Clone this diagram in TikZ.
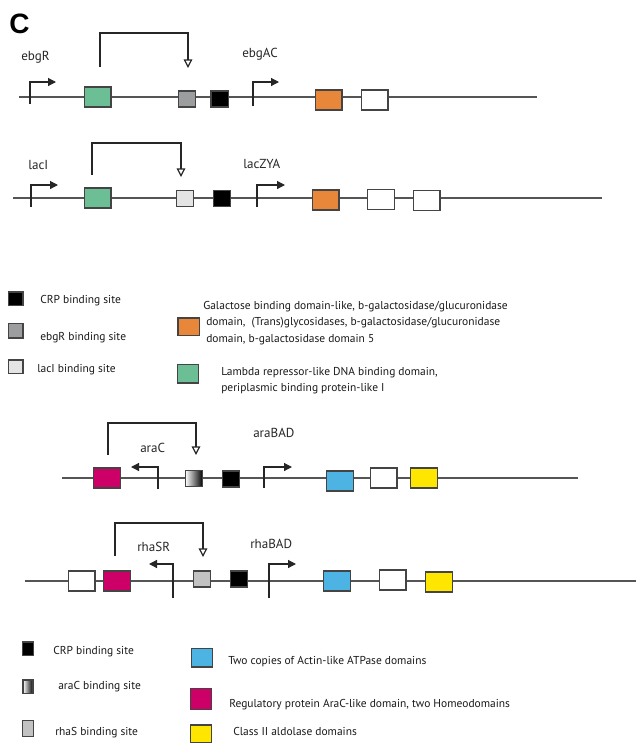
\documentclass[tikz,border=0pt]{standalone}
\usepackage{fontspec}
\setmainfont{PT Sans}
\newfontfamily\panelfont{Liberation Sans}
\usetikzlibrary{arrows.meta}
\definecolor{dnagray}{HTML}{555555}
\definecolor{edgegray}{HTML}{444444}
\definecolor{lambdagreen}{HTML}{6CBF94}
\definecolor{galorange}{HTML}{E8873A}
\definecolor{aracmag}{HTML}{CC0066}
\definecolor{actinblue}{HTML}{4DB3E2}
\definecolor{aldyellow}{HTML}{FFE600}
\definecolor{ebgrgray}{HTML}{9B9D9F}
\definecolor{lacigray}{HTML}{E4E4E4}
\definecolor{rhasgray}{HTML}{C2C2C2}
\tikzset{
  x=0.75pt, y=-0.75pt,
  dna/.style={draw=dnagray, line width=1.1pt},
  dom/.style={draw=edgegray, line width=1pt, minimum width=20pt, minimum height=15pt, inner sep=0pt},
  site/.style={draw=edgegray, line width=1pt, minimum width=13pt, minimum height=12pt, inner sep=0pt},
  prom/.style={draw=black!85, line width=0.9pt, -{Triangle[length=6pt, width=6pt]}},
  reg/.style={draw=black!85, line width=0.9pt, -{Triangle[open, length=6.5pt, width=6.5pt]}},
  lbl/.style={anchor=base west, inner sep=0pt, font=\fontsize{8.6}{10}\selectfont, text=black!90},
  gene/.style={anchor=base west, inner sep=0pt, font=\fontsize{9.8}{11}\selectfont, text=black!85},
}
\begin{document}
\begin{tikzpicture}
\useasboundingbox (0,0) rectangle (636,744);
\node[anchor=base west, inner sep=0pt, font=\panelfont\bfseries\fontsize{21}{21}\selectfont] (panel) at (9,33) {C};

% ---- ebgR / ebgAC ----
\coordinate (l1s) at (19,97); \coordinate (l1e) at (537,97);
\draw[dna] (l1s) -- (l1e);
\node[dom, fill=lambdagreen] (g1) at (97.5,97) {};
\node[site, fill=ebgrgray] (s1) at (187,99) {};
\node[site, fill=black] (c1) at (219.5,99) {};
\node[dom, fill=galorange] (o1) at (328.5,100) {};
\node[dom, fill=white] (w1) at (374.5,100) {};
\coordinate (p1a) at (30,104); \coordinate (p1b) at (56,82);
\draw[prom] (p1a) |- (p1b);
\coordinate (p2a) at (253,106); \coordinate (p2b) at (279,82);
\draw[prom] (p2a) |- (p2b);
\coordinate (r1a) at (100,67); \coordinate (r1b) at (188,68);
\draw[reg] (r1a) -- ++(0,-34) -| (r1b);
\node[gene] (t1) at (21,60) {ebgR};
\node[gene] (t2) at (242,57) {ebgAC};

% ---- lacI / lacZYA ----
\coordinate (l2s) at (13,198); \coordinate (l2e) at (602,198);
\draw[dna] (l2s) -- (l2e);
\node[dom, fill=lambdagreen] (g2) at (97.5,198) {};
\node[site, fill=lacigray] (s2) at (185,198.5) {};
\node[site, fill=black] (c2) at (222,198.5) {};
\node[dom, fill=galorange] (o2) at (325.5,200) {};
\node[dom, fill=white] (w2) at (381,199.5) {};
\node[dom, fill=white] (w3) at (426.5,200.5) {};
\coordinate (p3a) at (31,207); \coordinate (p3b) at (58,185);
\draw[prom] (p3a) |- (p3b);
\coordinate (p4a) at (257,207); \coordinate (p4b) at (285,185);
\draw[prom] (p4a) |- (p4b);
\coordinate (r2a) at (92,175); \coordinate (r2b) at (181,177);
\draw[reg] (r2a) -- ++(0,-32) -| (r2b);
\node[gene] (t3) at (28,169) {lacI};
\node[gene] (t4) at (243,168) {lacZYA};

% ---- legend 1 ----
\node[site, fill=black, minimum width=11pt, minimum height=10pt] (k1) at (15.5,298.5) {};
\node[site, fill=ebgrgray, minimum width=11pt, minimum height=11pt] (k2) at (15.5,330.5) {};
\node[site, fill=lacigray, minimum width=11pt, minimum height=10pt] (k3) at (15.5,366.5) {};
\node[lbl] (k1t) at (40,303) {CRP binding site};
\node[lbl] (k2t) at (40,340) {ebgR binding site};
\node[lbl] (k3t) at (37,372) {lacI binding site};
\node[dom, fill=galorange, minimum width=16pt, minimum height=13pt] (k4) at (188.5,326.5) {};
\node[lbl] (k4a) at (203,309) {Galactose binding domain-like, b-galactosidase/glucuronidase};
\node[lbl] (k4b) at (206,325) {domain,\ \ (Trans)glycosidases, b-galactosidase/glucuronidase};
\node[lbl] (k4c) at (206,342) {domain, b-galactosidase domain 5};
\node[dom, fill=lambdagreen, minimum width=16pt, minimum height=14pt] (k5) at (188,373.5) {};
\node[lbl] (k5a) at (221,375) {Lambda repressor-like DNA binding domain,};
\node[lbl] (k5b) at (221,391) {periplasmic binding protein-like I};

% ---- araC / araBAD ----
\coordinate (l3s) at (62,478); \coordinate (l3e) at (578,478);
\draw[dna] (l3s) -- (l3e);
\node[dom, fill=aracmag] (m1) at (107,478) {};
\node[site, left color=white, right color=black] (s3) at (194,478.5) {};
\node[site, fill=black] (c3) at (231,479) {};
\node[dom, fill=actinblue] (b1) at (340,481) {};
\node[dom, fill=white] (w4) at (383.5,478) {};
\node[dom, fill=aldyellow] (y1) at (424,478) {};
\coordinate (p5a) at (158,489); \coordinate (p5b) at (131,467);
\draw[prom] (p5a) |- (p5b);
\coordinate (p6a) at (264,488); \coordinate (p6b) at (292,467);
\draw[prom] (p6a) |- (p6b);
\coordinate (r3a) at (108,455); \coordinate (r3b) at (196,455);
\draw[reg] (r3a) -- ++(0,-32) -| (r3b);
\node[gene] (t5) at (140,452) {araC};
\node[gene] (t6) at (253,437) {araBAD};

% ---- rhaSR / rhaBAD ----
\coordinate (l4s) at (25,581); \coordinate (l4e) at (636,581);
\draw[dna] (l4s) -- (l4e);
\node[dom, fill=white] (w5) at (81.5,581) {};
\node[dom, fill=aracmag] (m2) at (117,581) {};
\node[site, fill=rhasgray] (s4) at (202,579) {};
\node[site, fill=black] (c4) at (239,579) {};
\node[dom, fill=actinblue] (b2) at (337,581) {};
\node[dom, fill=white] (w6) at (392.5,580) {};
\node[dom, fill=aldyellow] (y2) at (439,582) {};
\coordinate (p7a) at (173,598); \coordinate (p7b) at (149,564);
\draw[prom] (p7a) |- (p7b);
\coordinate (p8a) at (269,598); \coordinate (p8b) at (296,564);
\draw[prom] (p8a) |- (p8b);
\coordinate (r4a) at (115,556); \coordinate (r4b) at (203,557);
\draw[reg] (r4a) -- ++(0,-33) -| (r4b);
\node[gene] (t7) at (137,551) {rhaSR};
\node[gene] (t8) at (250,548) {rhaBAD};

% ---- legend 2 ----
\node[site, fill=black, minimum width=8.5pt, minimum height=10pt] (k6) at (28,648.5) {};
\node[site, left color=white, right color=black, minimum width=7.5pt, minimum height=10pt] (k7) at (28,686.5) {};
\node[site, fill=rhasgray, minimum width=8.5pt, minimum height=12pt] (k8) at (28,728.5) {};
\node[lbl] (k6t) at (53,654) {CRP binding site};
\node[lbl] (k7t) at (58,689) {araC binding site};
\node[lbl] (k8t) at (55,735) {rhaS binding site};
\node[dom, fill=actinblue, minimum width=16pt, minimum height=14pt] (k9) at (202,657.5) {};
\node[dom, fill=aracmag, minimum width=16pt, minimum height=16pt] (k10) at (201,699) {};
\node[dom, fill=aldyellow, minimum width=16pt, minimum height=13pt] (k11) at (201,733.5) {};
\node[lbl] (k9t) at (228,664) {Two copies of Actin-like ATPase domains};
\node[lbl] (k10t) at (229,707) {Regulatory protein AraC-like domain, two Homeodomains};
\node[lbl] (k11t) at (233,735) {Class II aldolase domains};
\end{tikzpicture}
\end{document}
